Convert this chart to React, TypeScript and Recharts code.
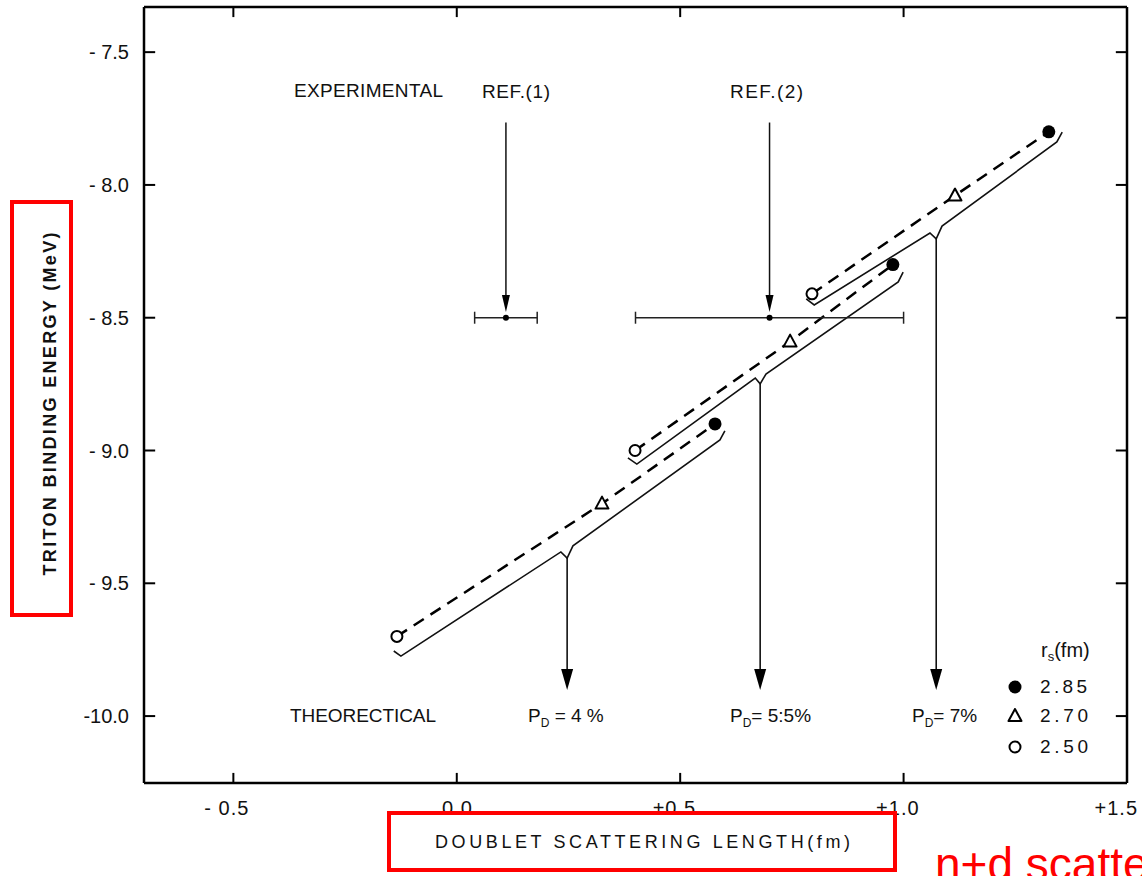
import React from 'react';
import { ComposedChart, XAxis, YAxis, Line, Scatter, ErrorBar, ReferenceLine } from 'recharts';

const X_DOMAIN: [number, number] = [-0.7, 1.5];
const Y_DOMAIN: [number, number] = [-10.252, -7.33];

const xTicks = [-0.5, 0, 0.5, 1.0, 1.5];
const xTickLabels = ['- 0.5', '0.0', '+0.5', '+1.0', '+1.5'];
const yTicks = [-7.5, -8.0, -8.5, -9.0, -9.5, -10.0];
const yTickLabels = ['- 7.5', '- 8.0', '- 8.5', '- 9.0', '- 9.5', '-10.0'];

// calculated points, one per r_s value, ordered P_D = 4 %, 5.5 %, 7 %
const rs285 = [
  { x: 0.578, y: -8.9 },
  { x: 0.976, y: -8.3 },
  { x: 1.325, y: -7.8 },
];
const rs270 = [
  { x: 0.325, y: -9.2 },
  { x: 0.746, y: -8.59 },
  { x: 1.115, y: -8.04 },
];
const rs250 = [
  { x: -0.134, y: -9.7 },
  { x: 0.399, y: -9.0 },
  { x: 0.795, y: -8.41 },
];

// solid curves under each dashed line (hooked ends, notch where the arrow leaves)
const pd4Curve = [
  { x: -0.141, y: -9.755 },
  { x: -0.125, y: -9.774 },
  { x: 0.233, y: -9.382 },
  { x: 0.247, y: -9.405 },
  { x: 0.26, y: -9.359 },
  { x: 0.589, y: -8.96 },
  { x: 0.6, y: -8.926 },
];
const pd55Curve = [
  { x: 0.383, y: -9.028 },
  { x: 0.403, y: -9.051 },
  { x: 0.668, y: -8.727 },
  { x: 0.679, y: -8.749 },
  { x: 0.692, y: -8.712 },
  { x: 0.988, y: -8.365 },
  { x: 0.999, y: -8.328 },
];
const pd7Curve = [
  { x: 0.782, y: -8.429 },
  { x: 0.8, y: -8.452 },
  { x: 1.059, y: -8.181 },
  { x: 1.073, y: -8.203 },
  { x: 1.086, y: -8.155 },
  { x: 1.343, y: -7.838 },
  { x: 1.355, y: -7.801 },
];
const ARROW_TIP = -9.902;

// experimental values
const expRefs = [
  { x: 0.11, y: -8.5, err: 0.07 },
  { x: 0.7, y: -8.5, err: 0.3 },
];
const REF_ARROW_TOP = -7.765;
const REF_ARROW_TIP = -8.478;

const FONT = '"Liberation Sans", Arial, sans-serif';
const INK = '#111';

const dashed = [0, 1, 2].map((i) => [rs250[i], rs270[i], rs285[i]]);
const curves = [pd4Curve, pd55Curve, pd7Curve];
const notches = curves.map((c) => c[3]);
const arrowShafts = notches.map((n) => [n, { x: n.x, y: ARROW_TIP + 0.06 }]);
const arrowHeads = notches.map((n) => ({ x: n.x, y: ARROW_TIP }));
const refShafts = expRefs.map((r) => [{ x: r.x, y: REF_ARROW_TOP }, { x: r.x, y: REF_ARROW_TIP + 0.04 }]);
const refHeads = expRefs.map((r) => ({ x: r.x, y: REF_ARROW_TIP }));

const xTickLen = 0.038;
const yTickLen = 0.025;

const FilledDot = (p: any) => <circle cx={p.cx} cy={p.cy} r={6.5} fill="#000" />;
const OpenDot = (p: any) => <circle cx={p.cx} cy={p.cy} r={5.5} fill="#fff" stroke="#000" strokeWidth={2} />;
const OpenTriangle = (p: any) => (
  <polygon
    points={`${p.cx},${p.cy - 7} ${p.cx - 6.5},${p.cy + 5} ${p.cx + 6.5},${p.cy + 5}`}
    fill="#fff"
    stroke="#000"
    strokeWidth={2}
    strokeLinejoin="round"
  />
);
const BigHead = (p: any) => (
  <polygon points={`${p.cx - 6},${p.cy - 21} ${p.cx + 6},${p.cy - 21} ${p.cx},${p.cy}`} fill="#000" />
);
const SmallHead = (p: any) => (
  <polygon points={`${p.cx - 4},${p.cy - 17} ${p.cx + 4},${p.cy - 17} ${p.cx},${p.cy}`} fill="#000" />
);
const SmallDot = (p: any) => <circle cx={p.cx} cy={p.cy} r={3} fill="#000" />;

const XTick = (p: any) => {
  const i = xTicks.indexOf(p.payload.value);
  // last label sits against the page edge, pull it in a little
  const dx = i === xTicks.length - 1 ? 11 : 16;
  return (
    <text x={p.x + dx} y={p.y + 32} textAnchor="end" fontFamily={FONT} fontSize={20} fill={INK} letterSpacing={1}>
      {xTickLabels[i]}
    </text>
  );
};

const YTick = (p: any) => {
  const i = yTicks.indexOf(p.payload.value);
  return (
    <text x={p.x} y={p.y + 7} textAnchor="end" fontFamily={FONT} fontSize={20} fill={INK}>
      {yTickLabels[i]}
    </text>
  );
};

function Overlay() {
  const t = { fontFamily: FONT, fill: INK };
  return (
    <svg width={1142} height={876} style={{ position: 'absolute', left: 0, top: 0, pointerEvents: 'none' }}>
      <text x={294} y={97} fontSize={19} textLength={149} {...t}>EXPERIMENTAL</text>
      <text x={482} y={98} fontSize={19} textLength={68} {...t}>REF.(1)</text>
      <text x={730} y={98} fontSize={19} textLength={73} {...t}>REF.(2)</text>
      <text x={290} y={722} fontSize={19} textLength={146} {...t}>THEORECTICAL</text>

      <text x={528} y={722} fontSize={19} {...t}>
        P<tspan fontSize={12} dy={5}>D</tspan>
        <tspan dy={-5}> = 4 %</tspan>
      </text>
      <text x={730} y={722} fontSize={19} {...t}>
        P<tspan fontSize={12} dy={5}>D</tspan>
        <tspan dy={-5}>=  5:5%</tspan>
      </text>
      <text x={912} y={722} fontSize={19} {...t}>
        P<tspan fontSize={12} dy={5}>D</tspan>
        <tspan dy={-5}>= 7%</tspan>
      </text>

      {/* legend */}
      <text x={1041} y={657} fontSize={20} {...t}>
        r<tspan fontSize={13} dy={4}>s</tspan>
        <tspan dy={-4}>(fm)</tspan>
      </text>
      <circle cx={1015} cy={687} r={6.5} fill="#000" />
      <text x={1040} y={693} fontSize={19} textLength={47} {...t}>2.85</text>
      <polygon points="1015,709 1008.5,721 1021.5,721" fill="#fff" stroke="#000" strokeWidth={2} strokeLinejoin="round" />
      <text x={1040} y={722} fontSize={19} textLength={48} {...t}>2.70</text>
      <circle cx={1015} cy={747} r={5.5} fill="#fff" stroke="#000" strokeWidth={2} />
      <text x={1040} y={753} fontSize={19} textLength={48} {...t}>2.50</text>

      {/* axis titles */}
      <text
        x={0}
        y={0}
        transform="translate(56,404) rotate(-90)"
        textAnchor="middle"
        fontSize={18}
        fontWeight={700}
        textLength={343}
        {...t}
      >
        TRITON BINDING ENERGY (MeV)
      </text>
      <text x={435} y={848} fontSize={18} textLength={415} {...t}>
        DOUBLET  SCATTERING  LENGTH(fm)
      </text>

      {/* red annotations (the caption runs off the page, as in the source) */}
      <rect x={12} y={202} width={59} height={413} fill="none" stroke="#f00" strokeWidth={4} />
      <rect x={389} y={813} width={506} height={57} fill="none" stroke="#f00" strokeWidth={4} />
      <text x={935} y={880} fontSize={46} fontFamily="Arial, 'Liberation Sans', sans-serif" fill="#f00">
        n+d scattering
      </text>
    </svg>
  );
}

export default function App() {
  return (
    <div style={{ position: 'absolute', left: 0, top: 0, width: 1142, height: 876, background: '#fff' }}>
      <ComposedChart width={1142} height={876} margin={{ top: 7, right: 15, bottom: 0, left: 0 }}>
        <XAxis
          type="number"
          dataKey="x"
          domain={X_DOMAIN}
          ticks={xTicks}
          allowDataOverflow
          height={93}
          tickSize={0}
          tickMargin={0}
          tickLine={false}
          axisLine={{ stroke: '#000', strokeWidth: 2.5 }}
          tick={<XTick />}
        />
        <YAxis
          type="number"
          dataKey="y"
          domain={Y_DOMAIN}
          ticks={yTicks}
          allowDataOverflow
          width={144}
          tickSize={0}
          tickMargin={15}
          tickLine={false}
          axisLine={{ stroke: '#000', strokeWidth: 2.5 }}
          tick={<YTick />}
        />

        {/* frame top / right */}
        <ReferenceLine y={Y_DOMAIN[1]} stroke="#000" strokeWidth={2.5} ifOverflow="visible" />
        <ReferenceLine x={X_DOMAIN[1]} stroke="#000" strokeWidth={2.5} ifOverflow="visible" />

        {/* inward ticks on all four sides */}
        {xTicks.slice(0, 4).map((t) => (
          <ReferenceLine
            key={`xb${t}`}
            segment={[{ x: t, y: Y_DOMAIN[0] }, { x: t, y: Y_DOMAIN[0] + xTickLen }]}
            stroke="#000"
            strokeWidth={2}
            ifOverflow="visible"
          />
        ))}
        {xTicks.slice(0, 4).map((t) => (
          <ReferenceLine
            key={`xt${t}`}
            segment={[{ x: t, y: Y_DOMAIN[1] }, { x: t, y: Y_DOMAIN[1] - xTickLen }]}
            stroke="#000"
            strokeWidth={2}
            ifOverflow="visible"
          />
        ))}
        {yTicks.map((t) => (
          <ReferenceLine
            key={`yl${t}`}
            segment={[{ x: X_DOMAIN[0], y: t }, { x: X_DOMAIN[0] + yTickLen, y: t }]}
            stroke="#000"
            strokeWidth={2}
            ifOverflow="visible"
          />
        ))}
        {yTicks.map((t) => (
          <ReferenceLine
            key={`yr${t}`}
            segment={[{ x: X_DOMAIN[1], y: t }, { x: X_DOMAIN[1] - yTickLen, y: t }]}
            stroke="#000"
            strokeWidth={2}
            ifOverflow="visible"
          />
        ))}

        {/* solid theory curves */}
        {curves.map((c, i) => (
          <Line
            key={`c${i}`}
            data={c}
            dataKey="y"
            type="linear"
            stroke={INK}
            strokeWidth={1.6}
            dot={false}
            activeDot={false}
            isAnimationActive={false}
          />
        ))}
        {/* dashed lines through the points */}
        {dashed.map((d, i) => (
          <Line
            key={`d${i}`}
            data={d}
            dataKey="y"
            type="linear"
            stroke="#000"
            strokeWidth={2.5}
            strokeDasharray="12 8"
            dot={false}
            activeDot={false}
            isAnimationActive={false}
          />
        ))}
        {/* P_D arrows */}
        {arrowShafts.map((a, i) => (
          <Line
            key={`a${i}`}
            data={a}
            dataKey="y"
            type="linear"
            stroke={INK}
            strokeWidth={1.6}
            dot={false}
            activeDot={false}
            isAnimationActive={false}
          />
        ))}
        <Scatter data={arrowHeads} shape={BigHead} isAnimationActive={false} />

        {/* experimental arrows and values */}
        {refShafts.map((a, i) => (
          <Line
            key={`r${i}`}
            data={a}
            dataKey="y"
            type="linear"
            stroke={INK}
            strokeWidth={1.5}
            dot={false}
            activeDot={false}
            isAnimationActive={false}
          />
        ))}
        <Scatter data={refHeads} shape={SmallHead} isAnimationActive={false} />
        <Scatter data={expRefs} shape={SmallDot} isAnimationActive={false}>
          <ErrorBar dataKey="err" direction="x" width={6} stroke="#222" strokeWidth={1.5} />
        </Scatter>

        <Scatter data={rs250} shape={OpenDot} isAnimationActive={false} />
        <Scatter data={rs270} shape={OpenTriangle} isAnimationActive={false} />
        <Scatter data={rs285} shape={FilledDot} isAnimationActive={false} />
      </ComposedChart>
      <Overlay />
    </div>
  );
}
